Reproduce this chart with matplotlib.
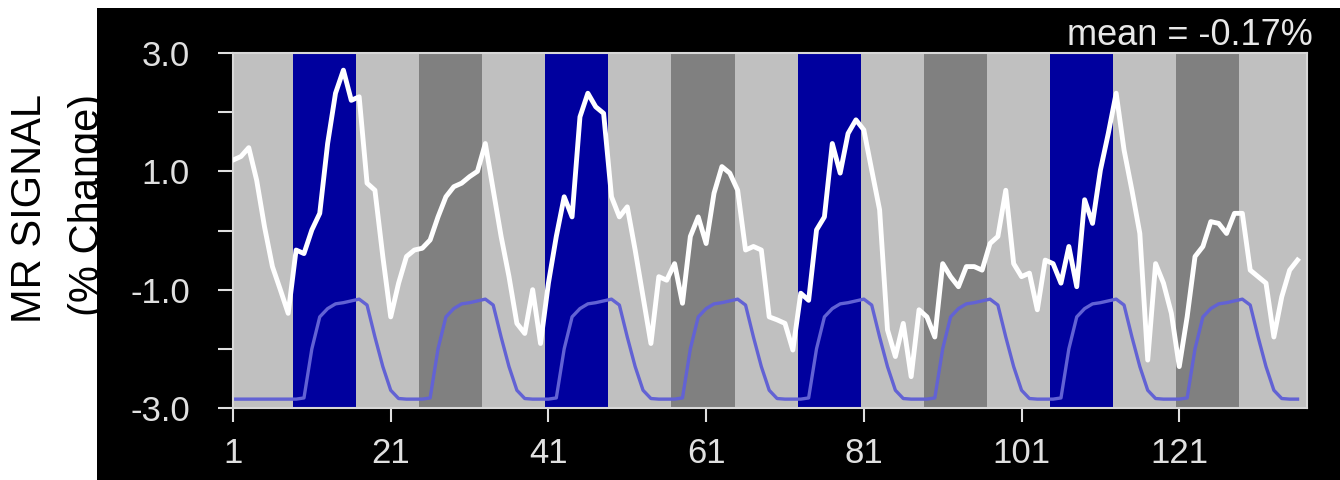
import matplotlib.pyplot as plt
from matplotlib.patches import Rectangle

# Sinal medido (% de mudança) por volume
signal = [1.19, 1.25, 1.40, 0.85, 0.06, -0.61, -1.00, -1.40, -0.33, -0.39,
          0.01, 0.29, 1.47, 2.32, 2.71, 2.20, 2.26, 0.80, 0.68, -0.44,
          -1.46, -0.89, -0.44, -0.33, -0.30, -0.16, 0.23, 0.57, 0.74, 0.80,
          0.91, 1.00, 1.47, 0.68, -0.10, -0.78, -1.57, -1.74, -1.00, -1.91,
          -0.89, -0.10, 0.57, 0.23, 1.92, 2.32, 2.09, 1.98, 0.57, 0.23,
          0.40, -0.33, -1.12, -1.91, -0.78, -0.84, -0.56, -1.23, -0.10, 0.23,
          -0.22, 0.63, 1.08, 0.97, 0.68, -0.33, -0.27, -0.33, -1.46, -1.51,
          -1.57, -2.02, -1.06, -1.18, 0.01, 0.23, 1.47, 0.97, 1.64, 1.87,
          1.70, 1.02, 0.35, -1.68, -2.13, -1.57, -2.47, -1.34, -1.46, -1.80,
          -0.56, -0.78, -0.95, -0.61, -0.61, -0.67, -0.22, -0.10, 0.68, -0.56,
          -0.78, -0.72, -1.34, -0.50, -0.56, -0.89, -0.27, -0.95, 0.52, 0.12,
          1.02, 1.64, 2.32, 1.36, 0.68, -0.05, -2.19, -0.56, -0.89, -1.40,
          -2.30, -1.46, -0.44, -0.27, 0.15, 0.12, -0.05, 0.29, 0.29, -0.67,
          -0.78, -0.89, -1.80, -1.12, -0.67, -0.50]

# Modelo (resposta hemodinâmica esperada)
model = [-2.85, -2.85, -2.85, -2.85, -2.85, -2.85, -2.85, -2.85, -2.85,
         -2.83, -2.00, -1.46, -1.32, -1.24, -1.22, -1.19, -1.16, -1.26, -1.80, -2.30, -2.70, -2.84, -2.85, -2.85, -2.85,
         -2.83, -2.00, -1.46, -1.32, -1.24, -1.22, -1.19, -1.16, -1.26, -1.80, -2.30, -2.70, -2.84, -2.85, -2.85, -2.85,
         -2.83, -2.00, -1.46, -1.32, -1.24, -1.22, -1.19, -1.16, -1.26, -1.80, -2.30, -2.70, -2.84, -2.85, -2.85, -2.85,
         -2.83, -2.00, -1.46, -1.32, -1.24, -1.22, -1.19, -1.16, -1.26, -1.80, -2.30, -2.70, -2.84, -2.85, -2.85, -2.85,
         -2.83, -2.00, -1.46, -1.32, -1.24, -1.22, -1.19, -1.16, -1.26, -1.80, -2.30, -2.70, -2.84, -2.85, -2.85, -2.85,
         -2.83, -2.00, -1.46, -1.32, -1.24, -1.22, -1.19, -1.16, -1.26, -1.80, -2.30, -2.70, -2.84, -2.85, -2.85, -2.85,
         -2.83, -2.00, -1.46, -1.32, -1.24, -1.22, -1.19, -1.16, -1.26, -1.80, -2.30, -2.70, -2.84, -2.85, -2.85, -2.85,
         -2.83, -2.00, -1.46, -1.32, -1.24, -1.22, -1.19, -1.16, -1.26, -1.80, -2.30, -2.70, -2.84, -2.85, -2.85]

scans = list(range(1, len(signal) + 1))

# Blocos do paradigma
block_edges = [1, 8.6, 16.6, 24.6, 32.6, 40.6, 48.6, 56.6, 64.6, 72.6,
               80.6, 88.6, 96.6, 104.6, 112.6, 120.6, 128.6, 137.2]
conditions = ['rest', 'A', 'rest', 'B', 'rest', 'A', 'rest', 'B', 'rest',
              'A', 'rest', 'B', 'rest', 'A', 'rest', 'B', 'rest']
cond_colors = {'rest': '#c0c0c0', 'A': '#00009e', 'B': '#808080'}

xticks = [1, 21, 41, 61, 81, 101, 121]
yticks = [-3, -2, -1, 0, 1, 2, 3]
ylabels = ['-3.0', '', '-1.0', '', '1.0', '', '3.0']

fig = plt.figure(figsize=(13.4, 4.8), dpi=100, facecolor='white')

# Painel preto por trás do gráfico (cobre parte do rótulo)
fig.patches.append(Rectangle((97 / 1340, 0), 1 - 97 / 1340, 472 / 480,
                             transform=fig.transFigure, facecolor='black',
                             edgecolor='none', zorder=-1))

fig.text(30 / 1340, 0.565, 'MR SIGNAL', rotation=90, ha='center', va='center',
         fontsize=30, family='Liberation Sans', color='black', zorder=-2)
fig.text(88 / 1340, 0.573, '(% Change)', rotation=90, ha='center', va='center',
         fontsize=30, family='Liberation Sans', color='black', zorder=-2)

ax = fig.add_axes([233 / 1340, 72 / 480, 1074 / 1340, 355 / 480])
ax.set_facecolor('#c0c0c0')

for i, cond in enumerate(conditions):
    ax.axvspan(block_edges[i], block_edges[i + 1], color=cond_colors[cond],
               lw=0, zorder=0)

ax.plot(scans, model, color='#6262d4', lw=2.4, zorder=2)
ax.plot(scans, signal, color='white', lw=3.5, zorder=3)

ax.set_xlim(1, 137.2)
ax.set_ylim(-3, 3)
ax.set_xticks(xticks)
ax.set_yticks(yticks)
ax.set_yticklabels(ylabels)

for sp in ax.spines.values():
    sp.set_color('#d8d8d8')
    sp.set_linewidth(1.5)

ax.tick_params(axis='y', colors='#e0e0e0', length=11, width=1.5, pad=20,
               labelsize=25)
ax.tick_params(axis='x', colors='#e0e0e0', length=10, width=1.5, pad=11,
               labelsize=25)
for lab in ax.get_xticklabels() + ax.get_yticklabels():
    lab.set_family('Liberation Sans')

fig.text(1313 / 1340, (480 - 45) / 480, 'mean = -0.17%', ha='right',
         va='baseline', fontsize=26, family='Liberation Sans', color='#e8e8e8')

plt.savefig('out.png', dpi=100, facecolor='white')
